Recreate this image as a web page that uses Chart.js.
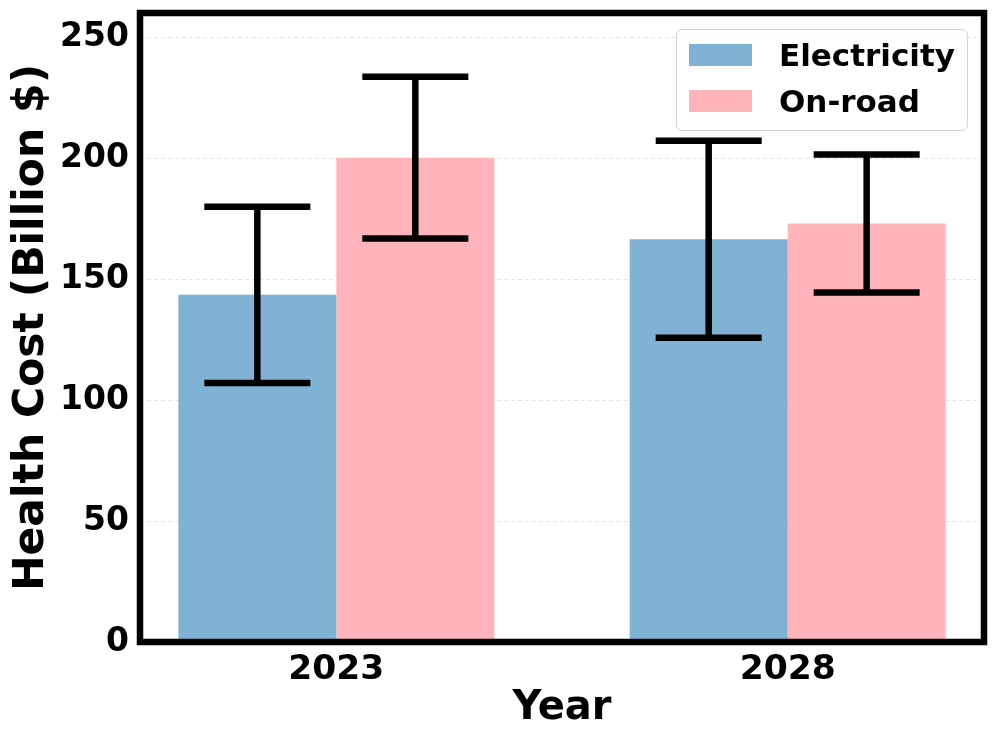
<!DOCTYPE html>
<html>
<head>
<meta charset="utf-8">
<script src="https://cdn.jsdelivr.net/npm/chart.js@4.4.1/dist/chart.umd.min.js"></script>
<style>
    html, body { margin: 0; padding: 0; background: #fff; }
    #wrap { position: relative; width: 997px; height: 743px; }
    #legend {
        position: absolute; left: 676px; top: 29px; width: 290px; height: 100px;
        border: 1.5px solid #d4d4d4; border-radius: 6px; background: rgba(255,255,255,0.8);
        font-family: 'DejaVu Sans', sans-serif; font-weight: bold; font-size: 31px; color: #000;
    }
    .sw { position: absolute; left: 12px; width: 63px; height: 22px; }
    .lbl { position: absolute; left: 102px; line-height: 36px; white-space: nowrap; }
</style>
</head>
<body>
<div id="wrap">
    <canvas id="costChart" width="997" height="743"></canvas>
    <div id="legend"></div>
</div>
<script>
// data
const years = ['2023', '2028'];
const seriesNames = ['Electricity', 'On-road'];
const electricity = [143.5, 166.5];
const onroad = [200.2, 173.0];
const electricityErr = [36.4, 40.7];
const onroadErr = [33.4, 28.5];
const yTicks = [0, 50, 100, 150, 200, 250];

const colors = ['#7fb2d5', '#ffb3ba'];
const errors = [electricityErr, onroadErr];

Chart.defaults.font.family = "'DejaVu Sans', sans-serif";
Chart.defaults.font.weight = 'bold';
Chart.defaults.color = '#000';

// black frame round the plot + error bars on top of the bars
const framePlugin = {
    id: 'frameAndErrors',
    afterDatasetsDraw(chart) {
        const ctx = chart.ctx;
        const yScale = chart.scales.y;
        ctx.save();
        ctx.strokeStyle = '#000';
        ctx.lineWidth = 6.5;
        ctx.lineCap = 'butt';
        chart.data.datasets.forEach((ds, i) => {
            const meta = chart.getDatasetMeta(i);
            meta.data.forEach((bar, j) => {
                const v = ds.data[j].y;
                const e = errors[i][j];
                const yTop = yScale.getPixelForValue(v + e);
                const yBot = yScale.getPixelForValue(v - e);
                const half = 53;
                ctx.beginPath();
                ctx.moveTo(bar.x, yTop);
                ctx.lineTo(bar.x, yBot);
                ctx.moveTo(bar.x - half, yTop);
                ctx.lineTo(bar.x + half, yTop);
                ctx.moveTo(bar.x - half, yBot);
                ctx.lineTo(bar.x + half, yBot);
                ctx.stroke();
            });
        });
        const a = chart.chartArea;
        ctx.lineWidth = 6.5;
        ctx.strokeRect(a.left, a.top, a.right - a.left, a.bottom - a.top);
        ctx.restore();
    }
};

const ctx = document.getElementById('costChart');
if (ctx) {
    new Chart(ctx.getContext('2d'), {
        type: 'bar',
        data: {
            datasets: [
                {
                    label: seriesNames[0],
                    data: electricity.map((v, i) => ({ x: i, y: v })),
                    backgroundColor: colors[0],
                    borderWidth: 0
                },
                {
                    label: seriesNames[1],
                    data: onroad.map((v, i) => ({ x: i, y: v })),
                    backgroundColor: colors[1],
                    borderWidth: 0
                }
            ]
        },
        options: {
            responsive: false,
            animation: false,
            devicePixelRatio: 1,
            categoryPercentage: 0.7,
            barPercentage: 1.0,
            layout: { padding: { top: 13, right: 13, left: 0, bottom: 0 } },
            plugins: {
                legend: { display: false },
                tooltip: { enabled: false }
            },
            scales: {
                x: {
                    type: 'linear',
                    min: -0.435,
                    max: 1.435,
                    offset: false,
                    grid: { display: false, drawTicks: false },
                    border: { display: false },
                    afterBuildTicks: (scale) => { scale.ticks = years.map((y, i) => ({ value: i })); },
                    afterFit: (scale) => {
                        scale.height = 101;
                        scale.paddingLeft = 0;
                        scale.paddingRight = 0;
                    },
                    ticks: {
                        padding: 7,
                        font: { size: 34.5, weight: 'bold' },
                        callback: (value) => years[value]
                    },
                    title: {
                        display: true,
                        text: 'Year',
                        font: { size: 40, weight: 'bold' },
                        padding: { top: 0, bottom: 10 }
                    }
                },
                y: {
                    min: 0,
                    max: 260,
                    afterBuildTicks: (scale) => { scale.ticks = yTicks.map(v => ({ value: v })); },
                    afterFit: (scale) => {
                        scale.width = 140;
                        scale.paddingTop = 0;
                        scale.paddingBottom = 0;
                    },
                    grid: {
                        drawTicks: false,
                        color: '#e3e3e3',
                        lineWidth: 1
                    },
                    border: { display: false, dash: [4, 3] },
                    ticks: {
                        padding: 11,
                        font: { size: 33, weight: 'bold' }
                    },
                    title: {
                        display: true,
                        text: 'Health Cost (Billion $)',
                        font: { size: 42.5, weight: 'bold' },
                        padding: { top: 6, bottom: 0 }
                    }
                }
            }
        },
        plugins: [framePlugin]
    });

    // legend built from the dataset names and colours
    const legendEl = document.getElementById('legend');
    seriesNames.forEach((name, i) => {
        const sw = document.createElement('div');
        sw.className = 'sw';
        sw.style.top = (14 + i * 46) + 'px';
        sw.style.background = colors[i];
        const lbl = document.createElement('div');
        lbl.className = 'lbl';
        lbl.style.top = (7 + i * 46) + 'px';
        lbl.textContent = name;
        legendEl.appendChild(sw);
        legendEl.appendChild(lbl);
    });
} else {
    console.warn("costChart element not found.");
}
</script>
</body>
</html>
